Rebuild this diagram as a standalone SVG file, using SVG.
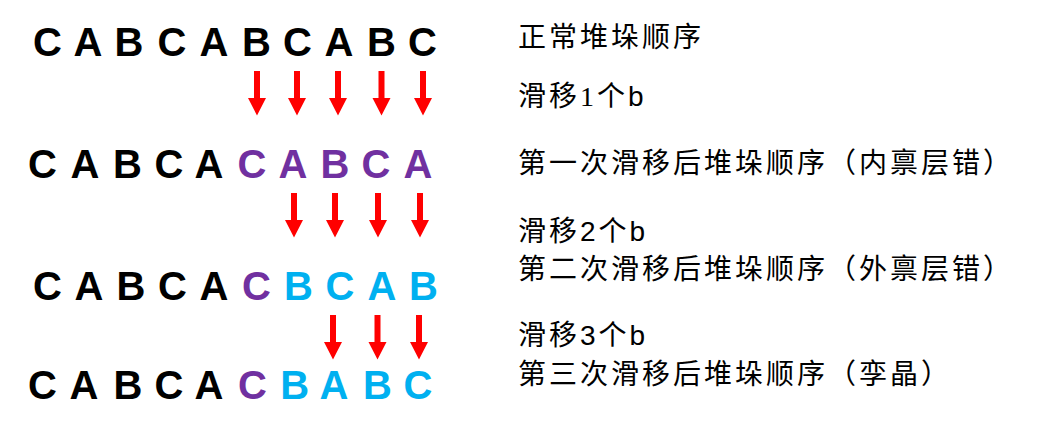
<svg xmlns="http://www.w3.org/2000/svg" width="1048" height="435" viewBox="0 0 1048 435">
<style>
.seq{font-family:"Liberation Sans",Arial,sans-serif;font-weight:bold;font-size:40px;text-anchor:middle;fill:#000}
.p{fill:#7030A0}
.c{fill:#00B0F0}
.lbl{font-family:"Liberation Sans","Noto Sans CJK SC",sans-serif;font-size:28px;letter-spacing:3px;fill:#000}
.arr{fill:#FF0000}
</style>
<defs>
<path id="arrow" d="M-3,0 H3 V27 H9 L0,44.5 L-9,27 H-3 Z"/>
</defs>
<rect width="1048" height="435" fill="#fff"/>
<g id="row1">
<text class="seq" x="47.5 88 129 172 214 256.5 297.5 339 381.5 422.5" y="56">CABCABCABC</text>
</g>
<g id="row2">
<text class="seq" x="42.5 85 127.5 169 209" y="178">CABCA</text>
<text class="seq p" x="252 293 335 376 418" y="178">CABCA</text>
</g>
<g id="row3">
<text class="seq" x="47.5 89 131 172.5 214" y="300">CABCA</text>
<text class="seq p" x="256.5" y="300">C</text>
<text class="seq c" x="298.5 340 382 423.5" y="300">BCAB</text>
</g>
<g id="row4">
<text class="seq" x="42.5 84 128 169 209" y="399">CABCA</text>
<text class="seq p" x="252.5" y="399">C</text>
<text class="seq c" x="294.7 334 377.5 418" y="399">BABC</text>
</g>
<g id="connectors" class="arr">
<use href="#arrow" x="257" y="71"/>
<use href="#arrow" x="297" y="71"/>
<use href="#arrow" x="338" y="71"/>
<use href="#arrow" x="381.5" y="71"/>
<use href="#arrow" x="423" y="71"/>
<use href="#arrow" x="294" y="193"/>
<use href="#arrow" x="335" y="193"/>
<use href="#arrow" x="378" y="193"/>
<use href="#arrow" x="420" y="193"/>
<use href="#arrow" x="333" y="315"/>
<use href="#arrow" x="377.5" y="315"/>
<use href="#arrow" x="419" y="315"/>
</g>
<g id="labels">
<text id="label1" class="lbl" x="518" y="47">正常堆垛顺序</text>
<text id="label2" class="lbl" x="518" y="106">滑移<tspan font-family="'Liberation Serif',serif">1</tspan>个b</text>
<text id="label3" class="lbl" x="518" y="173">第一次滑移后堆垛顺序（内禀层错）</text>
<text id="label4" class="lbl" x="518" y="241">滑移2个b</text>
<text id="label5" class="lbl" x="518" y="279">第二次滑移后堆垛顺序（外禀层错）</text>
<text id="label6" class="lbl" x="518" y="345">滑移3个b</text>
<text id="label7" class="lbl" x="518" y="384">第三次滑移后堆垛顺序（孪晶）</text>
</g>
</svg>
